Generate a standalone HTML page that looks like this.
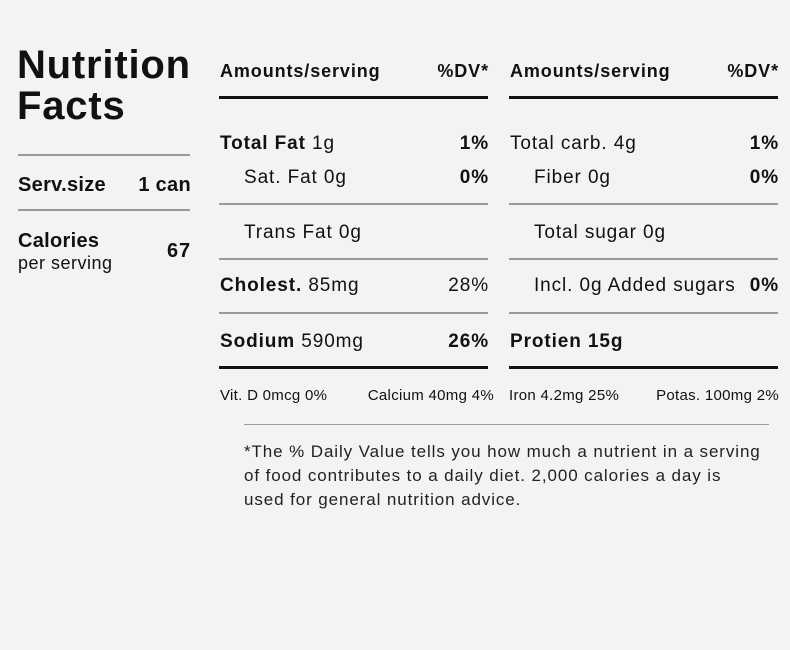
<!DOCTYPE html>
<html><head><meta charset="utf-8"><style>
body{margin:0;background:#f3f3f3;}
#c{position:relative;width:790px;height:650px;background:#f3f3f3;font-family:"Liberation Sans",sans-serif;color:#111;overflow:hidden;letter-spacing:0.9px}
#c div{position:absolute;white-space:nowrap;line-height:1}
.b{font-weight:bold}
.r{text-align:right}
.hl{height:3px;background:#111}
.gl{height:2px;background:#9a9a9a}
.f19{font-size:19px}
</style></head><body>
<div id="c">
<div class="b" style="left:17px;top:45px;font-size:40px;line-height:41px;letter-spacing:0.8px">Nutrition<br>Facts</div>
<div class="gl" style="left:18px;top:154px;width:172px"></div>
<div class="b" style="left:18px;top:175px;font-size:20px;letter-spacing:0.3px">Serv.size</div>
<div class="b r" style="left:110px;width:81px;top:175px;font-size:20px;letter-spacing:0.3px">1 can</div>
<div class="gl" style="left:18px;top:209px;width:172px"></div>
<div class="b" style="left:18px;top:231px;font-size:20px;letter-spacing:0.3px">Calories</div>
<div style="left:18px;top:254px;font-size:18px;letter-spacing:0.5px">per serving</div>
<div class="b r" style="left:130px;width:61px;top:241px;font-size:20px">67</div>

<div class="b" style="left:220px;top:62px;font-size:18px">Amounts/serving</div>
<div class="b r" style="left:400px;width:89px;top:62px;font-size:18px">%DV*</div>
<div class="b" style="left:510px;top:62px;font-size:18px">Amounts/serving</div>
<div class="b r" style="left:690px;width:89px;top:62px;font-size:18px">%DV*</div>
<div class="hl" style="left:219px;top:96px;width:269px"></div>
<div class="hl" style="left:509px;top:96px;width:269px"></div>

<div class="f19" style="left:220px;top:134px"><b>Total Fat</b> 1g</div>
<div class="f19 b r" style="left:400px;width:89px;top:134px">1%</div>
<div class="f19" style="left:244px;top:168px">Sat. Fat 0g</div>
<div class="f19 b r" style="left:400px;width:89px;top:168px">0%</div>
<div class="gl" style="left:219px;top:203px;width:269px"></div>
<div class="f19" style="left:244px;top:223px">Trans Fat 0g</div>
<div class="gl" style="left:219px;top:258px;width:269px"></div>
<div class="f19" style="left:220px;top:276px"><b>Cholest.</b> 85mg</div>
<div class="f19 r" style="left:400px;width:89px;top:276px">28%</div>
<div class="gl" style="left:219px;top:312px;width:269px"></div>
<div class="f19" style="left:220px;top:332px"><b>Sodium</b> 590mg</div>
<div class="f19 b r" style="left:400px;width:89px;top:332px">26%</div>
<div class="hl" style="left:219px;top:366px;width:269px"></div>

<div class="f19" style="left:510px;top:134px">Total carb. 4g</div>
<div class="f19 b r" style="left:690px;width:89px;top:134px">1%</div>
<div class="f19" style="left:534px;top:168px">Fiber 0g</div>
<div class="f19 b r" style="left:690px;width:89px;top:168px">0%</div>
<div class="gl" style="left:509px;top:203px;width:269px"></div>
<div class="f19" style="left:534px;top:223px">Total sugar 0g</div>
<div class="gl" style="left:509px;top:258px;width:269px"></div>
<div class="f19" style="left:534px;top:276px">Incl. 0g Added sugars</div>
<div class="f19 b r" style="left:690px;width:89px;top:276px">0%</div>
<div class="gl" style="left:509px;top:312px;width:269px"></div>
<div class="f19 b" style="left:510px;top:332px">Protien 15g</div>
<div class="hl" style="left:509px;top:366px;width:269px"></div>

<div style="left:220px;top:388px;font-size:15px;letter-spacing:0.3px">Vit. D 0mcg 0%</div>
<div class="r" style="left:330px;width:164px;top:388px;font-size:15px;letter-spacing:0.3px">Calcium 40mg 4%</div>
<div style="left:509px;top:388px;font-size:15px;letter-spacing:0.3px">Iron 4.2mg 25%</div>
<div class="r" style="left:620px;width:159px;top:388px;font-size:15px;letter-spacing:0.3px">Potas. 100mg 2%</div>

<div class="gl" style="left:244px;top:424px;width:525px;height:1px"></div>
<div style="left:244px;top:440px;font-size:17px;line-height:24px;color:#222">*The % Daily Value tells you how much a nutrient in a serving<br>of food contributes to a daily diet. 2,000 calories a day is<br>used for general nutrition advice.</div>
</div>
</body></html>
